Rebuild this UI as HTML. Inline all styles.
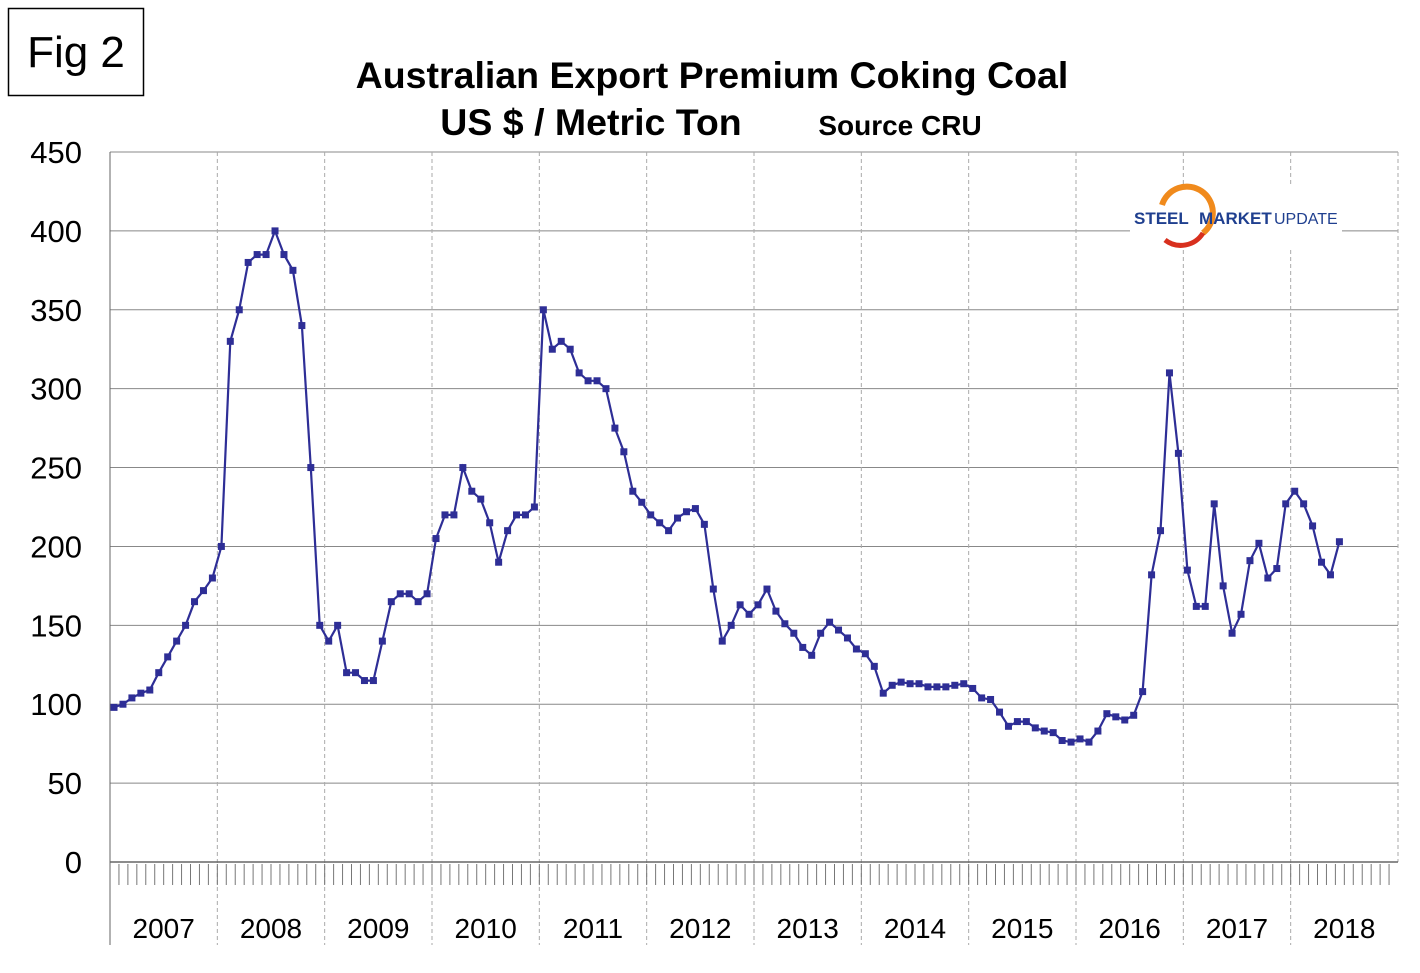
<!DOCTYPE html>
<html><head><meta charset="utf-8">
<style>
body{margin:0;background:#fff;}
svg{display:block;font-family:"Liberation Sans",Arial,sans-serif;}
</style></head>
<body>
<svg id="chart" width="1420" height="973" viewBox="0 0 1420 973">
<rect x="0" y="0" width="1420" height="973" fill="#fff"/>
<g>
<rect x="8.5" y="8.5" width="135" height="87" fill="#fff" stroke="#000" stroke-width="1.5"/>
<text x="76" y="67" font-size="44" text-anchor="middle">Fig 2</text>
</g>
<text x="712" y="88" font-size="37.5" font-weight="bold" text-anchor="middle">Australian Export Premium Coking Coal</text>
<text x="591" y="135" font-size="37.5" font-weight="bold" text-anchor="middle">US $ / Metric Ton</text>
<text x="900" y="135" font-size="28" font-weight="bold" text-anchor="middle">Source CRU</text>
<g id="grid"></g>
<g id="axes"></g>
<g>
<rect x="1130" y="185" width="212" height="62" fill="#fff"/>
<path d="M1162,205 A26,26 0 1 1 1203,233" fill="none" stroke="#f08a1c" stroke-width="6"/>
<path d="M1203,233 A26,26 0 0 1 1165,240" fill="none" stroke="#d8301e" stroke-width="5"/>
<text x="1134" y="224" font-size="17" font-weight="bold" fill="#1f3f8f">STEEL</text>
<text x="1199" y="224" font-size="17" font-weight="bold" fill="#1f3f8f">MARKET</text>
<text x="1274" y="224" font-size="16" fill="#1f3f8f">UPDATE</text>
</g>
<g id="series"></g>
</svg>
<script>
const values = [98,100,104,107,109,120,130,140,150,165,172,180,
200,330,350,380,385,385,400,385,375,340,250,150,
140,150,120,120,115,115,140,165,170,170,165,170,
205,220,220,250,235,230,215,190,210,220,220,225,
350,325,330,325,310,305,305,300,275,260,235,228,
220,215,210,218,222,224,214,173,140,150,163,157,
163,173,159,151,145,136,131,145,152,147,142,135,
132,124,107,112,114,113,113,111,111,111,112,113,
110,104,103,95,86,89,89,85,83,82,77,76,
78,76,83,94,92,90,93,108,182,210,310,259,
185,162,162,227,175,145,157,191,202,180,186,227,
235,227,213,190,182,203];
const years = ["2007","2008","2009","2010","2011","2012","2013","2014","2015","2016","2017","2018"];
const yTicks = [0,50,100,150,200,250,300,350,400,450];
const X0=110, X1=1398, Y0=862, Y1=152, yMax=450;
const yearW=(X1-X0)/12, monthW=yearW/12;
const ns="http://www.w3.org/2000/svg";
function yS(v){return Y0-(v/yMax)*(Y0-Y1);}
function xS(i){return X0+monthW*(i+0.45);}
function mk(tag,attrs,parent){const e=document.createElementNS(ns,tag);for(const k in attrs)e.setAttribute(k,attrs[k]);parent.appendChild(e);return e;}
const grid=document.getElementById('grid'), axes=document.getElementById('axes'), series=document.getElementById('series');
yTicks.forEach(t=>{
  if(t>0){const l=mk('line',{x1:X0,x2:X1,y1:yS(t),y2:yS(t),stroke:'#888','stroke-width':1},grid);
  
  }
  const tx=mk('text',{x:82,y:yS(t)+11,'font-size':31,'text-anchor':'end'},axes);
  tx.textContent=t;
  
  
});
years.forEach((yr,i)=>{
  const x=X0+i*yearW;
  const v=mk('line',{x1:x,x2:x,y1:Y1,y2:945,stroke:i===0?'#666':'#aaa','stroke-width':1,'stroke-dasharray':i===0?'':'4,3'},grid);
  
  
  const tx=mk('text',{x:x+yearW/2,y:938,'font-size':28,'text-anchor':'middle'},axes);
  tx.textContent=yr;
  
  
});
mk('line',{x1:X1,x2:X1,y1:Y1,y2:Y0,stroke:'#aaa','stroke-width':1,'stroke-dasharray':'4,3'},grid);
const base=mk('line',{x1:X0,x2:X1,y1:Y0,y2:Y0,stroke:'#666','stroke-width':1.5},axes);


for(let m=1;m<144;m++){
  const x=X0+m*monthW;
  const t=mk('line',{x1:x,x2:x,y1:Y0+2,y2:885,stroke:'#777','stroke-width':1},axes);
  
  
}
const pts=values.map((v,i)=>xS(i).toFixed(1)+','+yS(v).toFixed(1)).join(' ');
const pl=mk('polyline',{points:pts,fill:'none',stroke:'#2e2e96','stroke-width':2.2},series);


values.forEach((v,i)=>{
  const r=mk('rect',{x:xS(i)-3.5,y:yS(v)-3.5,width:7,height:7,fill:'#2e2e96'},series);
  
  
});
</script>
</body></html>
